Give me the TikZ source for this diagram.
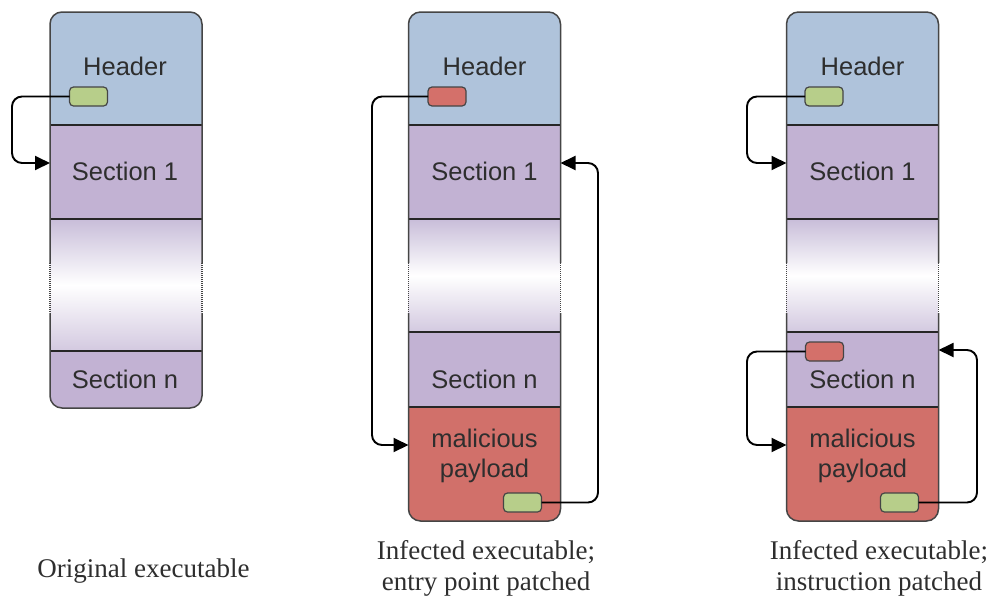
\documentclass[tikz,border=0pt]{standalone}
\usepackage{fontspec}
\setmainfont{Liberation Serif}
\newfontfamily\boxfont{Liberation Sans}
\usetikzlibrary{arrows.meta}
\definecolor{hdrc}{HTML}{AFC3DB}
\definecolor{purc}{HTML}{C2B2D3}
\definecolor{payc}{HTML}{D1706A}
\definecolor{grnc}{HTML}{B7CE8A}
\definecolor{tagred}{HTML}{D4706A}
\definecolor{edgec}{HTML}{454545}
\definecolor{txtc}{HTML}{2E2E2E}
\definecolor{gradtop}{HTML}{C8BDD9}
\definecolor{gradbot}{HTML}{D3C9E0}
\tikzset{
  secbox/.style={draw=none, inner sep=0pt, outer sep=0pt, minimum width=152pt},
  boxtxt/.style={inner sep=0pt, text=txtc, font=\boxfont\fontsize{25.5}{30}\selectfont, align=center},
  captxt/.style={inner sep=0pt, text=txtc, font=\fontsize{27}{31}\selectfont, align=center},
  tag/.style={draw=edgec, line width=1.2pt, rounded corners=4pt, minimum width=38pt, minimum height=19pt, inner sep=0pt, outer sep=0pt},
  conn/.style={draw=black, line width=1.9pt, rounded corners=10pt, -{Triangle[length=15pt,width=14pt]}},
  divider/.style={draw=black!85, line width=1.3pt},
  outline/.style={draw=edgec, line width=1.5pt, rounded corners=12pt},
  dotside/.style={draw=edgec, line width=1.5pt, dash pattern=on 1pt off 1pt}
}
\begin{document}
\begin{tikzpicture}[x=1pt,y=-1pt]
\useasboundingbox[fill=white] (0,0) rectangle (993,595);

% ---------------- Column 1 ----------------
\begin{scope}
\clip[rounded corners=12pt] (50,12) rectangle (202,408);
\node[secbox, fill=hdrc, minimum height=113pt] (h1) at (126,68.5) {};
\node[secbox, fill=purc, minimum height=94pt] (s1) at (126,172) {};
\node[secbox, minimum height=132pt, top color=gradtop, bottom color=gradbot, middle color=white] (m1) at (126,285) {};
\node[secbox, fill=purc, minimum height=57pt] (sn1) at (126,379.5) {};
\end{scope}
\draw[divider] (h1.south west) -- (h1.south east);
\draw[divider] (s1.south west) -- (s1.south east);
\draw[divider] (m1.south west) -- (m1.south east);
\draw[outline] (50,263) -- (50,12) -- (202,12) -- (202,263);
\draw[outline] (50,313) -- (50,408) -- (202,408) -- (202,313);
\draw[dotside] (50,263) -- (50,313);
\draw[dotside] (202,263) -- (202,313);
\node[boxtxt, anchor=base] (t1h) at (125,75) {Header};
\node[boxtxt, anchor=base] (t1s) at (125,180) {Section 1};
\node[boxtxt, anchor=base] (t1n) at (125,388) {Section n};
\node[tag, fill=grnc] (g1) at (88.5,96.5) {};
\draw[conn] (g1.west) -- (12,96.5) |- (s1.west |- 0,163);
\node[captxt, anchor=base] (c1) at (143.5,577) {Original executable};

% ---------------- Column 2 ----------------
\begin{scope}
\clip[rounded corners=12pt] (408.5,12) rectangle (560.5,521);
\node[secbox, fill=hdrc, minimum height=113pt] (h2) at (484.5,68.5) {};
\node[secbox, fill=purc, minimum height=94pt] (s12) at (484.5,172) {};
\node[secbox, minimum height=113pt, top color=gradtop, bottom color=gradbot, middle color=white] (m2) at (484.5,275.5) {};
\node[secbox, fill=purc, minimum height=75pt] (sn2) at (484.5,369.5) {};
\node[secbox, fill=payc, minimum height=114pt] (p2) at (484.5,464) {};
\end{scope}
\draw[divider] (h2.south west) -- (h2.south east);
\draw[divider] (s12.south west) -- (s12.south east);
\draw[divider] (m2.south west) -- (m2.south east);
\draw[divider] (sn2.south west) -- (sn2.south east);
\draw[outline] (408.5,263) -- (408.5,12) -- (560.5,12) -- (560.5,263);
\draw[outline] (408.5,313) -- (408.5,521) -- (560.5,521) -- (560.5,313);
\draw[dotside] (408.5,263) -- (408.5,313);
\draw[dotside] (560.5,263) -- (560.5,313);
\node[boxtxt, anchor=base] (t2h) at (484.5,75) {Header};
\node[boxtxt, anchor=base] (t2s) at (484.5,180) {Section 1};
\node[boxtxt, anchor=base] (t2n) at (484.5,388) {Section n};
\node[boxtxt, anchor=north] (t2p) at (484.5,429) {malicious\\payload};
\node[tag, fill=tagred] (r2) at (447,96.5) {};
\node[tag, fill=grnc] (g2) at (522.5,502.5) {};
\draw[conn] (r2.west) -- (372,96.5) |- (p2.west |- 0,445);
\draw[conn] (g2.east) -- (598,502.5) |- (s12.east |- 0,163);
\node[captxt, anchor=north] (c2) at (486,540) {Infected executable;\\entry point patched};

% ---------------- Column 3 ----------------
\begin{scope}
\clip[rounded corners=12pt] (786.5,12) rectangle (938.5,521);
\node[secbox, fill=hdrc, minimum height=113pt] (h3) at (862.5,68.5) {};
\node[secbox, fill=purc, minimum height=94pt] (s13) at (862.5,172) {};
\node[secbox, minimum height=113pt, top color=gradtop, bottom color=gradbot, middle color=white] (m3) at (862.5,275.5) {};
\node[secbox, fill=purc, minimum height=75pt] (sn3) at (862.5,369.5) {};
\node[secbox, fill=payc, minimum height=114pt] (p3) at (862.5,464) {};
\end{scope}
\draw[divider] (h3.south west) -- (h3.south east);
\draw[divider] (s13.south west) -- (s13.south east);
\draw[divider] (m3.south west) -- (m3.south east);
\draw[divider] (sn3.south west) -- (sn3.south east);
\draw[outline] (786.5,263) -- (786.5,12) -- (938.5,12) -- (938.5,263);
\draw[outline] (786.5,313) -- (786.5,521) -- (938.5,521) -- (938.5,313);
\draw[dotside] (786.5,263) -- (786.5,313);
\draw[dotside] (938.5,263) -- (938.5,313);
\node[boxtxt, anchor=base] (t3h) at (862.5,75) {Header};
\node[boxtxt, anchor=base] (t3s) at (862.5,180) {Section 1};
\node[boxtxt, anchor=base] (t3n) at (862.5,388) {Section n};
\node[boxtxt, anchor=north] (t3p) at (862.5,429) {malicious\\payload};
\node[tag, fill=grnc] (g3) at (824,96.5) {};
\node[tag, fill=tagred] (r3) at (824.5,351.5) {};
\node[tag, fill=grnc] (g3b) at (899.5,502.5) {};
\draw[conn] (g3.west) -- (747,96.5) |- (s13.west |- 0,163);
\draw[conn] (r3.west) -- (747,351.5) |- (p3.west |- 0,445);
\draw[conn] (g3b.east) -- (977,502.5) |- (sn3.east |- 0,350);
\node[captxt, anchor=north] (c3) at (879,540) {Infected executable;\\instruction patched};
\end{tikzpicture}
\end{document}
